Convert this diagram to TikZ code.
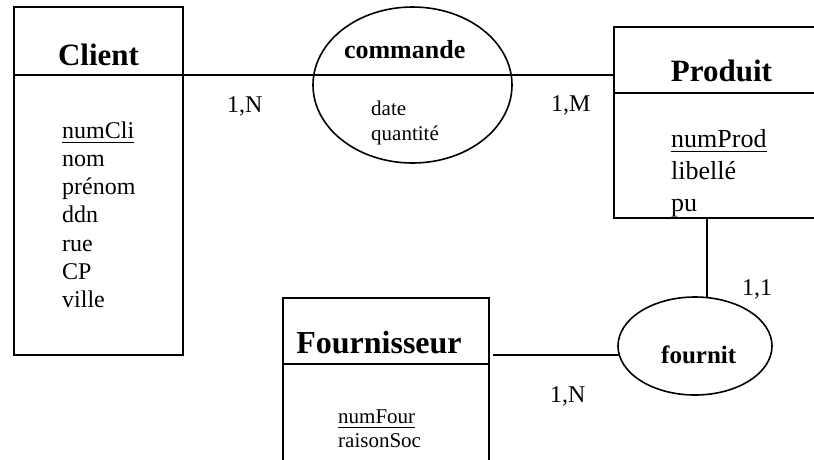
\documentclass[tikz,border=0pt]{standalone}
\usepackage{fontspec}
\setmainfont{Liberation Serif}
\usetikzlibrary{shapes.geometric}

% underlined identifier (primary key)
\newcommand\keyattr[1]{\vtop{\hbox{#1}\kern3.5pt\hrule height 1.1pt}}

\begin{document}
\begin{tikzpicture}[x=1pt,y=-1pt,
  box/.style={draw, line width=1.8pt, rectangle, inner sep=0pt, outer sep=0pt},
  assoc/.style={draw, line width=1.6pt, ellipse, inner sep=0pt, outer sep=0pt},
  link/.style={line width=1.8pt},
  divider/.style={line width=1.4pt},
  etitle/.style={font=\fontsize{31}{36}\selectfont\bfseries, anchor=base, inner sep=0pt},
  rtitle/.style={font=\fontsize{26}{30}\selectfont\bfseries, anchor=base, inner sep=0pt},
  attr/.style={font=\fontsize{24}{28}\selectfont, anchor=base west, inner sep=0pt},
  battr/.style={font=\fontsize{26}{30}\selectfont, anchor=base west, inner sep=0pt},
  sattr/.style={font=\fontsize{21}{25}\selectfont, anchor=base west, inner sep=0pt},
  card/.style={font=\fontsize{24}{28}\selectfont, anchor=base west, inner sep=0pt}
]
\useasboundingbox (0,0) rectangle (814,459);
\clip (0,0) rectangle (814,459);

% ---- entity: Client
\node[box, minimum width=169pt, minimum height=348pt] (client) at (98.5,181) {};
\coordinate (clihead) at (0,75);
\draw[divider] (client.west |- clihead) -- (client.east |- clihead);
\node[etitle] (clititle) at (98.5,65) {Client};
\node[attr] (cli1) at (62,138) {\keyattr{numCli}};
\foreach \t [count=\i from 2] in {nom,prénom,ddn,rue,CP,ville}
  \node[attr] (cli\i) at (62,{138+28.33*(\i-1)}) {\t};

% ---- entity: Produit
\node[box, minimum width=216pt, minimum height=191pt] (produit) at (722,122.5) {};
\coordinate (prodhead) at (0,93);
\draw[divider] (produit.west |- prodhead) -- (produit.east |- prodhead);
\node[etitle] (prodtitle) at (721.5,81) {Produit};
\node[battr] (prod1) at (671,147) {\keyattr{numProd}};
\node[battr] (prod2) at (671,179) {libellé};
\node[battr] (prod3) at (671,211) {pu};

% ---- entity: Fournisseur
\node[box, minimum width=206pt, minimum height=190pt] (fourn) at (386,393) {};
\coordinate (fournhead) at (0,364);
\draw[divider] (fourn.west |- fournhead) -- (fourn.east |- fournhead);
\node[etitle, font=\fontsize{32}{36}\selectfont\bfseries] (fourntitle) at (379,353) {Fournisseur};
\node[sattr] (fourn1) at (338,423) {\keyattr{numFour}};
\node[sattr] (fourn2) at (338,447) {raisonSoc};

% ---- association: commande
\node[assoc, minimum width=199pt, minimum height=156pt] (commande) at (412.5,85) {};
\node[rtitle] (cmdtitle) at (404.7,58) {commande};
\node[sattr] (cmd1) at (371,115) {date};
\node[sattr] (cmd2) at (371,140) {quantité};

% ---- association: fournit
\node[assoc, minimum width=154pt, minimum height=98pt] (fournit) at (695,346) {};
\node[rtitle, font=\fontsize{25}{30}\selectfont\bfseries] (fourtitle) at (698.7,363) {fournit};

% ---- links
\coordinate (cmdline) at (0,75);
\draw[link] (client.east |- cmdline) -- (produit.west |- cmdline);
\coordinate (pf) at (707,218);
\draw[link] (pf) -- (pf |- fournit.north);
\coordinate (ffline) at (0,355);
\draw[link, shorten <=4pt] (fourn.east |- ffline) -- ([xshift=1pt]fournit.west |- ffline);

% ---- cardinalities
\node[card] (card1) at (227,112) {1,N};
\node[card] (card2) at (551,111) {1,M};
\node[card] (card3) at (742,295) {1,1};
\node[card] (card4) at (550,402) {1,N};
\end{tikzpicture}
\end{document}
